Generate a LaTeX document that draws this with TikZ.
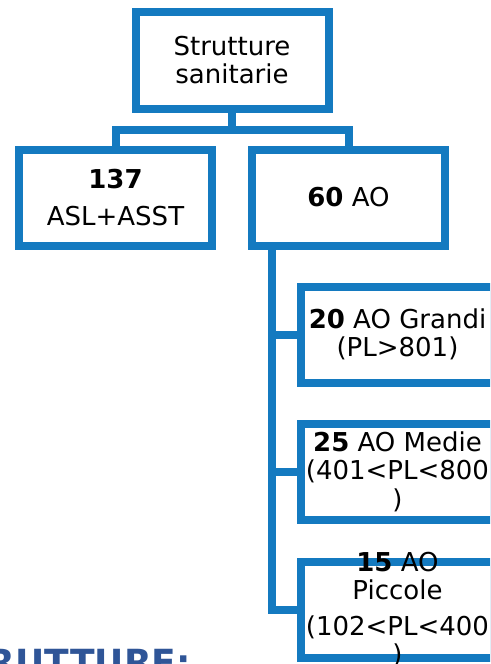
\documentclass[tikz,border=0pt]{standalone}
\usepackage{fontspec}
\setmainfont{DejaVu Sans}
\usetikzlibrary{positioning}
\definecolor{orgblue}{RGB}{20,122,192}
\definecolor{titleblue}{RGB}{47,85,151}

\begin{document}
\begin{tikzpicture}[
    x=1pt, y=-1pt,
    box/.style={draw=orgblue, line width=8pt, fill=white, rectangle, minimum width=193pt, minimum height=96pt, inner ysep=0pt, align=center, font=\fontsize{26}{28.5}\selectfont},
    boxlabel/.style={align=center, font=\fontsize{26}{28.5}\selectfont},
    conn/.style={draw=orgblue, line width=8pt}
]
    \useasboundingbox (0,0) rectangle (490,664);
    \clip (0,0) rectangle (490,664);

    % Top level
    \node[box, minimum height=97pt] (top) at (232,60) {Strutture\\sanitarie};

    % Second level
    \node[box, below=33pt of top, xshift=-116.5pt] (asl) {\textbf{137}\\[9pt]ASL+ASST};
    \node[box, below=33pt of top, xshift=116.5pt] (ao) {\textbf{60} AO};

    % AO groups
    \node[box, below=33pt of ao, xshift=49pt] (grandi) {\textbf{20} AO Grandi\\(PL>801)};
    \node[box, below=33pt of grandi] (medie) {\textbf{25} AO Medie\\(401<PL<800\\)};
    \node[box, below=34pt of medie, label={[boxlabel]center:\textbf{15} AO\\Piccole\\[7pt](102<PL<400\\)}] (piccole) {};

    % Connectors
    \coordinate[below=17pt of top.south] (split);
    \draw[conn] (top.south) -- (split) -| (asl.north);
    \draw[conn] (split) -| (ao.north);
    \draw[conn] ([xshift=24pt]ao.south west) |- (grandi.west);
    \draw[conn] ([xshift=24pt]ao.south west) |- (medie.west);
    \draw[conn] ([xshift=24pt]ao.south west) |- (piccole.west);

    % Heading cut off below
    \node[anchor=base east, inner sep=0pt, text=titleblue, font=\bfseries\fontsize{36}{40}\selectfont] (heading) at (191,675) {STRUTTURE:};
\end{tikzpicture}
\end{document}
